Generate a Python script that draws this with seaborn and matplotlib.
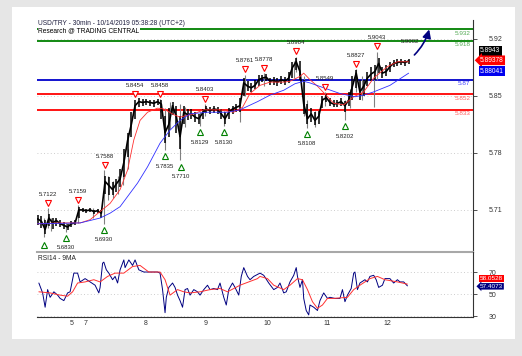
import numpy as np
import pandas as pd
import matplotlib
matplotlib.use("Agg")
import matplotlib.pyplot as plt
import seaborn as sns
from matplotlib.patches import Rectangle
from matplotlib import transforms

# ── Data ──────────────────────────────────────────────────────────────────
# x axis = bar index (30min bars), one sample every 3 bars
price_step = 3
closes = [
    5.699, 5.696, 5.686, 5.700, 5.694, 5.697, 5.693, 5.691, 5.689, 5.693,
    5.694, 5.710, 5.710, 5.709, 5.710, 5.708, 5.709, 5.706, 5.745, 5.740,
    5.735, 5.742, 5.748, 5.768, 5.795, 5.815, 5.838, 5.843, 5.842, 5.843,
    5.842, 5.841, 5.843, 5.840, 5.805, 5.815, 5.838, 5.825, 5.800, 5.830,
    5.827, 5.828, 5.824, 5.822, 5.829, 5.834, 5.832, 5.834, 5.833, 5.828,
    5.822, 5.830, 5.834, 5.836, 5.838, 5.866, 5.862, 5.860, 5.863, 5.870,
    5.872, 5.873, 5.868, 5.869, 5.867, 5.870, 5.868, 5.872, 5.885, 5.892,
    5.880, 5.840, 5.822, 5.828, 5.820, 5.825, 5.845, 5.848, 5.842, 5.840,
    5.841, 5.843, 5.838, 5.845, 5.862, 5.878, 5.855, 5.862, 5.872, 5.877,
    5.880, 5.890, 5.878, 5.880, 5.886, 5.890, 5.891, 5.892, 5.891, 5.893,
]
bar_lo = [
    5.692, 5.688, 5.680, 5.690, 5.686, 5.690, 5.689, 5.687, 5.685, 5.689,
    5.691, 5.700, 5.707, 5.706, 5.707, 5.705, 5.706, 5.700, 5.730, 5.728,
    5.728, 5.732, 5.738, 5.750, 5.775, 5.800, 5.822, 5.836, 5.838, 5.839,
    5.838, 5.837, 5.839, 5.822, 5.792, 5.800, 5.826, 5.805, 5.785, 5.815,
    5.820, 5.822, 5.818, 5.816, 5.822, 5.829, 5.828, 5.829, 5.828, 5.822,
    5.816, 5.822, 5.828, 5.830, 5.830, 5.850, 5.856, 5.855, 5.858, 5.862,
    5.867, 5.868, 5.864, 5.864, 5.862, 5.865, 5.864, 5.866, 5.872, 5.882,
    5.870, 5.828, 5.815, 5.818, 5.814, 5.816, 5.835, 5.842, 5.838, 5.836,
    5.837, 5.838, 5.830, 5.838, 5.845, 5.860, 5.845, 5.850, 5.862, 5.868,
    5.870, 5.878, 5.872, 5.875, 5.880, 5.886, 5.887, 5.888, 5.887, 5.889,
]
bar_hi = [
    5.704, 5.702, 5.698, 5.705, 5.700, 5.700, 5.697, 5.695, 5.693, 5.696,
    5.698, 5.713, 5.712, 5.711, 5.712, 5.710, 5.711, 5.710, 5.752, 5.750,
    5.744, 5.748, 5.760, 5.785, 5.805, 5.830, 5.845, 5.847, 5.846, 5.846,
    5.845, 5.845, 5.846, 5.845, 5.825, 5.835, 5.843, 5.838, 5.825, 5.838,
    5.834, 5.834, 5.830, 5.828, 5.834, 5.838, 5.836, 5.838, 5.837, 5.834,
    5.830, 5.835, 5.838, 5.840, 5.848, 5.872, 5.868, 5.866, 5.870, 5.876,
    5.876, 5.877, 5.872, 5.873, 5.872, 5.874, 5.873, 5.880, 5.892, 5.897,
    5.893, 5.870, 5.840, 5.835, 5.830, 5.832, 5.850, 5.853, 5.848, 5.845,
    5.845, 5.847, 5.844, 5.855, 5.875, 5.882, 5.870, 5.870, 5.880, 5.885,
    5.888, 5.897, 5.885, 5.888, 5.892, 5.894, 5.895, 5.895, 5.894, 5.896,
]
price_bar = list(range(0, len(closes) * price_step, price_step))

# long grey wicks
wick_bar = [5, 8, 11, 23, 32, 44, 53, 56, 60, 64, 68, 72, 98, 102, 106, 114, 118,
            130, 134, 149, 162, 166, 181, 205, 207, 213, 216, 222, 230, 246, 250,
            255, 260, 269, 272]
wick_low = [5.677, 5.688, 5.684, 5.683, 5.694, 5.700, 5.693, 5.722, 5.725, 5.730,
            5.740, 5.760, 5.830, 5.7835, 5.810, 5.771, 5.812, 5.8129, 5.825, 5.813,
            5.818, 5.850, 5.862, 5.872, 5.880, 5.825, 5.8108, 5.812, 5.838, 5.8202,
            5.835, 5.855, 5.845, 5.836, 5.870]
wick_high = [5.700, 5.7122, 5.700, 5.694, 5.7159, 5.712, 5.7588, 5.752, 5.746, 5.752,
             5.760, 5.785, 5.8458, 5.835, 5.842, 5.840, 5.836, 5.830, 5.8403, 5.832,
             5.836, 5.8761, 5.8778, 5.893, 5.8984, 5.875, 5.845, 5.832, 5.8549, 5.845,
             5.858, 5.8827, 5.875, 5.880, 5.9043]

ma_fast_bar = [0, 18, 34, 42, 50, 58, 66, 72, 77, 82, 88, 96, 101, 109, 114, 125, 133,
               146, 157, 164, 170, 178, 186, 197, 202, 210, 213, 218, 224, 229, 237,
               245, 253, 261, 269, 280, 288, 297]
ma_fast = [5.693, 5.694, 5.694, 5.698, 5.708, 5.718, 5.735, 5.759, 5.796, 5.820, 5.830,
           5.835, 5.834, 5.827, 5.824, 5.828, 5.833, 5.833, 5.830, 5.836, 5.853, 5.863,
           5.867, 5.867, 5.868, 5.874, 5.878, 5.870, 5.862, 5.854, 5.841, 5.839, 5.849,
           5.855, 5.872, 5.886, 5.892, 5.892]

ma_slow_bar = [0, 34, 50, 58, 66, 80, 88, 98, 106, 114, 122, 136, 152, 162, 176, 186,
               197, 206, 213, 218, 229, 242, 254, 261, 269, 282, 297]
ma_slow = [5.693, 5.694, 5.700, 5.706, 5.714, 5.743, 5.763, 5.792, 5.808, 5.820, 5.828,
           5.830, 5.830, 5.833, 5.843, 5.851, 5.857, 5.865, 5.868, 5.866, 5.860, 5.853,
           5.849, 5.851, 5.855, 5.863, 5.878]

hi_bar = [8, 32, 54, 78, 98, 134, 166, 181, 207, 230, 255, 272]
hi_val = [5.7122, 5.7159, 5.7588, 5.8454, 5.8458, 5.8403, 5.8761, 5.8778, 5.8984,
          5.8549, 5.8827, 5.9043]
lo_bar = [5, 23, 53, 102, 115, 130, 149, 216, 246]
lo_val = [5.6740, 5.6830, 5.6930, 5.7835, 5.7710, 5.8129, 5.8130, 5.8108, 5.8202]
lo_txt = ["", "5.6830", "5.6930", "5.7835", "5.7710", "5.8129", "5.8130", "5.8108", "5.8202"]
last_bar, last_val = 298, 5.9002

levels = [5.932, 5.918, 5.87, 5.852, 5.833]
level_txt = ["5.932", "5.918", "5.87", "5.852", "5.833"]
level_col = ["#008000", "#008000", "#0000cc", "#ff0000", "#ff0000"]
level_txt_col = ["#55aa55", "#55aa55", "#4444ff", "#ff6060", "#ff6060"]

rsi_bar = [1, 4, 6, 8, 10, 13, 16, 18, 21, 24, 26, 29, 32, 34, 38, 42, 46, 49, 50, 52,
           53, 55, 57, 60, 62, 64, 66, 69, 70, 73, 76, 78, 81, 85, 90, 96, 98, 100, 102,
           103, 105, 108, 110, 112, 114, 116, 118, 120, 122, 125, 128, 130, 133, 136,
           138, 141, 144, 146, 149, 151, 153, 156, 158, 161, 163, 165, 168, 170, 173,
           178, 181, 185, 189, 192, 194, 197, 199, 202, 205, 207, 208, 210, 212, 213,
           215, 217, 218, 221, 224, 226, 229, 232, 234, 238, 242, 244, 246, 248, 251,
           253, 254, 256, 258, 262, 264, 266, 269, 271, 273, 276, 278, 282, 285, 288,
           290, 293, 296]
rsi = [60, 51, 38, 54, 47, 52, 49, 46, 44, 51, 52, 69, 69, 61, 64, 61, 58, 51, 56, 78,
       79, 72, 69, 63, 66, 60, 72, 81, 74, 81, 76, 81, 72, 70, 70, 70, 69, 54, 33,
       47, 56, 60, 56, 49, 44, 38, 54, 55, 49, 54, 52, 49, 54, 58,
       54, 55, 54, 60, 47, 40, 54, 60, 56, 49, 66, 74, 66, 63, 66,
       69, 67, 60, 54, 56, 60, 51, 52, 61, 67, 74, 66, 56, 63, 46,
       35, 31, 40, 38, 35, 44, 51, 46, 47, 46, 46, 54, 43, 49, 55,
       69, 70, 54, 60, 63, 61, 66, 67, 63, 56, 58, 64, 64, 60, 63,
       61, 61, 57.4]
rsi_ma_bar = [1, 10, 18, 24, 28, 32, 38, 45, 50, 56, 62, 69, 76, 82, 89, 98, 102, 106,
              112, 117, 122, 130, 138, 146, 152, 157, 162, 169, 176, 178, 184, 189, 197,
              202, 208, 212, 216, 220, 224, 228, 232, 237, 248, 253, 258, 266, 272, 278,
              288, 296]
rsi_ma = [52, 51, 49, 48, 52, 60, 61, 63, 61, 66, 69, 69, 75, 76, 70, 70, 63, 49, 54, 52,
          51, 52, 54, 55, 52, 55, 58, 61, 64, 66, 64, 58, 54, 58, 64, 63, 54, 43, 37, 40,
          46, 46, 47, 54, 58, 64, 66, 63, 61, 59]

day_ticks = [26, 37, 85, 133, 181, 229, 277]
day_labels = ["5", "7", "8", "9", "10", "11", "12"]

# ── Figure ────────────────────────────────────────────────────────────────
sns.set_style("white")
plt.rcParams["font.family"] = ["Liberation Sans", "DejaVu Sans"]

W, H = 522, 356
fig = plt.figure(figsize=(W / 100, H / 100), dpi=100)
fig.patch.set_facecolor("#e6e6e6")
fig.patches.append(Rectangle((12 / W, 17 / H), 503 / W, 332 / H, transform=fig.transFigure,
                             facecolor="white", edgecolor="none", zorder=-10))

ax = fig.add_axes([37 / W, 1 - 252 / H, 436 / W, 232 / H])
ax_rsi = fig.add_axes([37 / W, 1 - 317 / H, 436 / W, 65 / H], sharex=ax)
for a in (ax, ax_rsi):
    a.set_facecolor("none")

ax.set_xlim(-0.5, 348.5)
ax.set_ylim(5.6583, 5.9433)
ax_rsi.set_ylim(29.1, 88.2)

# grid
for a in (ax, ax_rsi):
    a.grid(axis="y", ls=(0, (1, 3)), color="#bdbdbd", lw=0.6)
    a.grid(axis="x", visible=False)

# levels
for lv, c in zip(levels, level_col):
    ax.axhline(lv, color=c, lw=1.3, zorder=2)
for lv, t, c in zip(levels, level_txt, level_txt_col):
    ax.annotate(t, (1, lv), xycoords=("axes fraction", "data"), xytext=(-2, -1.2),
                textcoords="offset points", ha="right", va="top", color=c, fontsize=4.6)

# price bars
ax.vlines(wick_bar, wick_low, wick_high, color="#808080", lw=0.8, zorder=3)
ax.vlines(price_bar, bar_lo, bar_hi, color="black", lw=1.1, zorder=4)
sns.lineplot(x=price_bar, y=closes, ax=ax, color="black", lw=1.2, zorder=4)
sns.lineplot(x=ma_fast_bar, y=ma_fast, ax=ax, color="#ff3030", lw=0.6, zorder=5)
sns.lineplot(x=ma_slow_bar, y=ma_slow, ax=ax, color="#3030ff", lw=0.6, zorder=5)

# highs / lows
up = transforms.offset_copy(ax.transData, fig=fig, x=0, y=3.8, units="points")
dn = transforms.offset_copy(ax.transData, fig=fig, x=0, y=-4.5, units="points")
ax.plot(hi_bar, hi_val, ls="none", marker="v", ms=4.4, mfc="white", mec="#ff0000",
        mew=0.8, transform=up, zorder=6)
ax.plot(lo_bar, lo_val, ls="none", marker="^", ms=4.4, mfc="white", mec="#008000",
        mew=0.8, transform=dn, zorder=6)
for b, v in zip(hi_bar, hi_val):
    ax.annotate(f"{v:.4f}", (b, v), xytext=(0, 10), textcoords="offset points",
                ha="center", va="center", fontsize=4.3, color="#222222", zorder=7)
for b, v, t in zip(lo_bar, lo_val, lo_txt):
    ax.annotate(t, (b, v), xytext=(0, -11.5), textcoords="offset points",
                ha="center", va="center", fontsize=4.3, color="#222222", zorder=7)
ax.annotate(f"{last_val:.4f}", (last_bar, last_val), xytext=(0, 10),
            textcoords="offset points", ha="center", va="center", fontsize=4.3,
            color="#222222")

# forecast arrow
ax.annotate("", xy=(314, 5.935), xytext=(300, 5.898),
            arrowprops=dict(arrowstyle="-|>,head_length=0.5,head_width=0.25",
                            color="#000080", lw=1.2,
                            connectionstyle="arc3,rad=0.15"), zorder=8)

# titles
ax.text(0.003, 0.987, "USD/TRY - 30min - 10/14/2019 05:38:28 (UTC+2)",
        transform=ax.transAxes, ha="left", va="center", fontsize=4.8, color="#202040")
ax.text(0.003, 0.952, "Research @ TRADING CENTRAL", transform=ax.transAxes,
        ha="left", va="center", fontsize=4.8, color="black", zorder=9,
        bbox=dict(boxstyle="square,pad=0.1", fc="white", ec="none"))

# right axis price
ax.yaxis.tick_right()
ax.set_yticks([5.71, 5.78, 5.85, 5.92])
ax.set_yticklabels(["5.71", "5.78", "5.85", "5.92"])
ax.tick_params(axis="y", direction="out", length=3, width=0.6, pad=8,
               labelsize=5, colors="#333333")
ax.tick_params(axis="x", bottom=False, labelbottom=False)
ax.set_xlabel("")
ax.set_ylabel("")
for s in ("top", "left"):
    ax.spines[s].set_visible(False)
ax.spines["right"].set_color("#333333")
ax.spines["right"].set_linewidth(0.8)
ax.spines["bottom"].set_color("#a8a8a8")
ax.spines["bottom"].set_linewidth(1.5)

box_kw = dict(xycoords=("axes fraction", "data"), textcoords="offset points",
              va="center", ha="left", fontsize=4.8)
ax.annotate("5.8943", (1, 5.9055), xytext=(5, 0), color="white",
            bbox=dict(boxstyle="square,pad=0.2", fc="black", ec="none"), **box_kw)
ax.annotate("5.89378", (1, 5.8938), xytext=(5, 0), color="white",
            bbox=dict(boxstyle="larrow,pad=0.2", fc="#ff0000", ec="none"), **box_kw)
ax.annotate("5.88041", (1, 5.8804), xytext=(5, 0), color="white",
            bbox=dict(boxstyle="square,pad=0.2", fc="#0000ee", ec="none"), **box_kw)

# ── RSI panel ─────────────────────────────────────────────────────────────
sns.lineplot(x=rsi_bar, y=rsi, ax=ax_rsi, color="#000080", lw=0.7, zorder=4)
sns.lineplot(x=rsi_ma_bar, y=rsi_ma, ax=ax_rsi, color="#ff3030", lw=0.7, zorder=5)
ax_rsi.text(0.003, 0.9, "RSI14 - 9MA", transform=ax_rsi.transAxes, ha="left",
            va="center", fontsize=4.8, color="#222222")

ax_rsi.yaxis.tick_right()
ax_rsi.set_yticks([30, 50, 70])
ax_rsi.set_yticklabels(["30", "50", "70"])
ax_rsi.tick_params(axis="y", direction="out", length=3, width=0.6, pad=8,
                   labelsize=5, colors="#333333")
ax_rsi.set_xticks(day_ticks)
ax_rsi.set_xticklabels(day_labels)
ax_rsi.tick_params(axis="x", direction="out", length=3, width=0.6, pad=-1,
                   labelsize=5, colors="#333333")
for lbl in ax_rsi.get_xticklabels():
    lbl.set_ha("left")
ax_rsi.set_xlabel("")
ax_rsi.set_ylabel("")
for s in ("top", "left"):
    ax_rsi.spines[s].set_visible(False)
for s in ("right", "bottom"):
    ax_rsi.spines[s].set_color("#333333")
    ax_rsi.spines[s].set_linewidth(0.8)

rbox = dict(xycoords=("axes fraction", "data"), textcoords="offset points",
            va="center", ha="left", fontsize=4.6, color="white")
ax_rsi.annotate("58.0528", (1, 64.3), xytext=(5, 0),
                bbox=dict(boxstyle="square,pad=0.12", fc="#ff0000", ec="none"), **rbox)
ax_rsi.annotate("57.4073", (1, 57.0), xytext=(5, 0),
                bbox=dict(boxstyle="larrow,pad=0.12", fc="#000080", ec="none"), **rbox)

fig.savefig("out.png", dpi=100, facecolor=fig.get_facecolor())
